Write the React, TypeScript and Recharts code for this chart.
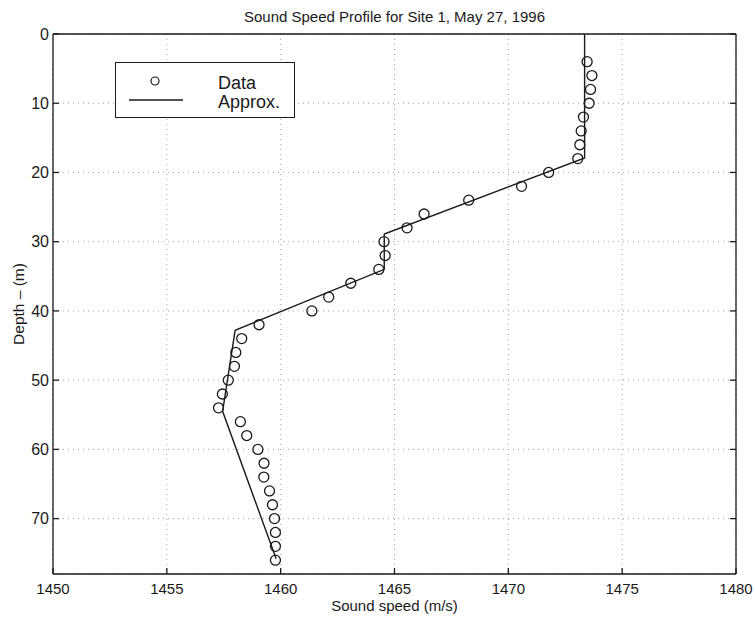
import React from 'react';
import { ScatterChart, Scatter, XAxis, YAxis, CartesianGrid, Legend } from 'recharts';

const dataDepth = [4, 6, 8, 10, 12, 14, 16, 18, 20, 22, 24, 26, 28, 30, 32, 34, 36, 38, 40, 42, 44, 46, 48, 50, 52, 54, 56, 58, 60, 62, 64, 66, 68, 70, 72, 74, 76];
const dataSpeed = [1473.46, 1473.67, 1473.61, 1473.55, 1473.3, 1473.2, 1473.14, 1473.05, 1471.77, 1470.58, 1468.26, 1466.3, 1465.55, 1464.54, 1464.59, 1464.31, 1463.08, 1462.11, 1461.37, 1459.05, 1458.29, 1458.03, 1457.97, 1457.7, 1457.44, 1457.27, 1458.23, 1458.51, 1459.0, 1459.27, 1459.26, 1459.51, 1459.64, 1459.73, 1459.77, 1459.77, 1459.77];

const approxDepth = [0, 17.9, 28.9, 34, 42.8, 54.5, 75.8];
const approxSpeed = [1473.35, 1473.35, 1464.55, 1464.55, 1458.0, 1457.45, 1459.8];

const xTicks = [1450, 1455, 1460, 1465, 1470, 1475, 1480];
const yTicks = [0, 10, 20, 30, 40, 50, 60, 70];
const xDomain = [1450, 1480];
const yDomain = [0, 78];

const title = 'Sound Speed Profile for Site 1, May 27, 1996';
const xLabel = 'Sound speed (m/s)';
const yLabel = 'Depth \u2013 (m)';

const measured = dataDepth.map((d, i) => ({ x: dataSpeed[i], y: d }));
const approx = approxDepth.map((d, i) => ({ x: approxSpeed[i], y: d }));

const FONT = '"Liberation Sans", Arial, Helvetica, sans-serif';
const INK = '#1a1a1a';
const TICK = 6;

const CircleShape = (props: any) => (
  <circle cx={props.cx} cy={props.cy} r={5} fill="none" stroke={INK} strokeWidth={1.3} />
);
const NoShape = () => <g />;

const BottomTick = (p: any) => (
  <g>
    <line x1={p.x} x2={p.x} y1={p.y - 8} y2={p.y - 8 - TICK} stroke={INK} strokeWidth={1.3} />
    <text x={p.x} y={p.y} dy="0.78em" textAnchor="middle" fontSize={15} fontFamily={FONT} fill={INK}>
      {p.payload.value}
    </text>
  </g>
);
const LeftTick = (p: any) => (
  <g>
    <line x1={p.x + 4} x2={p.x + 4 + TICK} y1={p.y} y2={p.y} stroke={INK} strokeWidth={1.3} />
    <text x={p.x} y={p.y} dy="0.36em" textAnchor="end" fontSize={16} fontFamily={FONT} fill={INK}>
      {p.payload.value}
    </text>
  </g>
);
const TopTick = (p: any) => (
  <line x1={p.x} x2={p.x} y1={p.y} y2={p.y + TICK} stroke={INK} strokeWidth={1.3} />
);
const RightTick = (p: any) => (
  <line x1={p.x} x2={p.x - TICK} y1={p.y} y2={p.y} stroke={INK} strokeWidth={1.3} />
);

const LegendBox = () => (
  <div style={{ width: 180, height: 56, border: `1.3px solid ${INK}`, background: '#fff', boxSizing: 'border-box' }}>
    <svg width={178} height={54} style={{ display: 'block' }}>
      <circle cx={39} cy={18} r={4} fill="none" stroke={INK} strokeWidth={1.2} />
      <line x1={13} x2={67} y1={37} y2={37} stroke={INK} strokeWidth={1.3} />
      <text x={102} y={25.5} fontSize={18} fontFamily={FONT} fill={INK}>Data</text>
      <text x={102} y={44.5} fontSize={18} fontFamily={FONT} fill={INK}>Approx.</text>
    </svg>
  </div>
);

export default function App() {
  return (
    <div style={{ position: 'absolute', left: 0, top: 0, width: 755, height: 619, background: '#fff' }}>
      <ScatterChart width={755} height={619} margin={{ top: 0, right: 0, bottom: 0, left: 0 }}>
        <CartesianGrid
          xAxisId="bottom"
          yAxisId="left"
          stroke="#a0a0a0"
          strokeDasharray="1 4"
          strokeWidth={1}
        />
        <XAxis
          xAxisId="bottom"
          type="number"
          dataKey="x"
          domain={xDomain}
          ticks={xTicks}
          interval={0}
          allowDataOverflow
          height={45}
          tickSize={0}
          tickLine={false}
          tickMargin={8}
          stroke={INK}
          strokeWidth={1.3}
          tick={BottomTick}
          label={{
            content: (p: any) => {
              const vb = p.viewBox;
              return (
                <text x={vb.x + vb.width / 2} y={611} textAnchor="middle" fontSize={15} fontFamily={FONT} fill={INK}>
                  {xLabel}
                </text>
              );
            },
          }}
        />
        <XAxis
          xAxisId="top"
          orientation="top"
          type="number"
          domain={xDomain}
          ticks={xTicks}
          interval={0}
          allowDataOverflow
          height={34}
          tickSize={0}
          tickLine={false}
          tickMargin={0}
          tick={TopTick}
          stroke={INK}
          strokeWidth={1.3}
          label={{
            content: (p: any) => {
              const vb = p.viewBox;
              return (
                <text x={vb.x + vb.width / 2} y={22} textAnchor="middle" fontSize={15} fontFamily={FONT} fill={INK}>
                  {title}
                </text>
              );
            },
          }}
        />
        <YAxis
          yAxisId="left"
          type="number"
          dataKey="y"
          domain={yDomain}
          ticks={yTicks}
          interval={0}
          reversed
          allowDataOverflow
          width={53}
          tickSize={0}
          tickLine={false}
          tickMargin={4}
          stroke={INK}
          strokeWidth={1.3}
          tick={LeftTick}
          label={{
            content: (p: any) => {
              const vb = p.viewBox;
              const cy = vb.y + vb.height / 2;
              return (
                <text x={24} y={cy} transform={`rotate(-90 24 ${cy})`} textAnchor="middle" fontSize={15.5} fontFamily={FONT} fill={INK}>
                  {yLabel}
                </text>
              );
            },
          }}
        />
        <YAxis
          yAxisId="right"
          orientation="right"
          type="number"
          domain={yDomain}
          ticks={yTicks}
          interval={0}
          reversed
          allowDataOverflow
          width={19}
          tickSize={0}
          tickLine={false}
          tickMargin={0}
          tick={RightTick}
          stroke={INK}
          strokeWidth={1.3}
        />
        <Legend
          layout="vertical"
          align="center"
          verticalAlign="middle"
          wrapperStyle={{ position: 'absolute', left: 115, top: 62, width: 180, height: 56 }}
          content={() => <LegendBox />}
        />
        <Scatter
          name="Data"
          data={measured}
          xAxisId="bottom"
          yAxisId="left"
          shape={CircleShape}
          isAnimationActive={false}
        />
        <Scatter
          name="Approx."
          data={approx}
          xAxisId="bottom"
          yAxisId="left"
          line={{ stroke: INK, strokeWidth: 1.4 }}
          lineType="joint"
          shape={NoShape}
          isAnimationActive={false}
        />
      </ScatterChart>
    </div>
  );
}
